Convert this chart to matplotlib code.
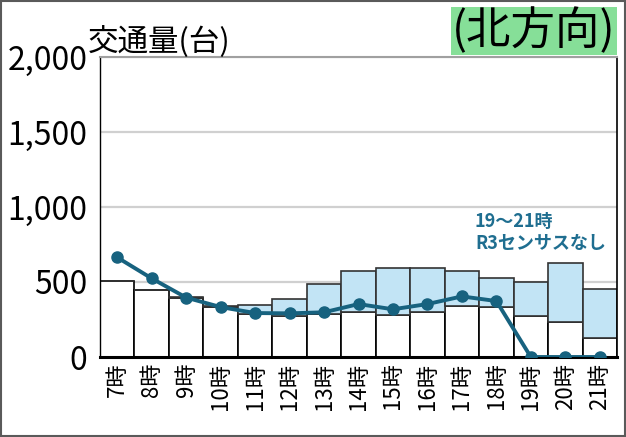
import matplotlib.pyplot as plt
import numpy as np
from matplotlib.patches import Rectangle

plt.rcParams['font.family'] = ['Noto Sans CJK JP', 'DejaVu Sans']

# data
hours = ['7時', '8時', '9時', '10時', '11時', '12時', '13時', '14時',
         '15時', '16時', '17時', '18時', '19時', '20時', '21時']
lower = [509, 444, 395, 331, 290, 276, 287, 300, 280, 298, 342, 333, 273, 231, 124]
total = [509, 444, 402, 342, 347, 389, 489, 573, 593, 591, 576, 524, 502, 624, 456]
census = [664, 524, 396, 333, 293, 291, 298, 353, 318, 353, 404, 373, 0, 0, 0]
yticks = [0, 500, 1000, 1500, 2000]

upper = np.array(total) - np.array(lower)
x = np.arange(len(hours))

fig = plt.figure(figsize=(6.26, 4.37), dpi=100)
ax = fig.add_axes([100/626, 1-357/437, 517/626, 300/437])

#bars
ax.bar(x, lower, width=1.0, color='white', edgecolor='black', linewidth=1.2, zorder=2)
ax.bar(x, upper, bottom=lower, width=1.0, color='#c2e4f5', edgecolor='#333333',
       linewidth=1.2, zorder=2)

#line
ax.plot(x, census, color='#17627f', linewidth=2.8, marker='o', markersize=8, zorder=3)

#axes
ax.set_xlim(-0.5, len(hours)-0.5)
ax.set_ylim(0, 2000)
ax.set_yticks(yticks)
ax.set_yticklabels(['{:,}'.format(v) for v in yticks], fontsize=23)
ax.set_xticks(x)
ax.set_xticklabels(hours, rotation=90, fontsize=16)
ax.tick_params(axis='both', length=0)
ax.tick_params(axis='y', pad=9)
ax.tick_params(axis='x', pad=4)
ax.yaxis.grid(True, color='#d0d0d0', linewidth=1.6, zorder=0)
ax.set_axisbelow(True)
ax.spines['top'].set_color('#a0a0a0')
ax.spines['top'].set_linewidth(1.5)
ax.spines['bottom'].set_linewidth(2.2)
ax.spines['left'].set_linewidth(1.0)
ax.spines['right'].set_linewidth(1.2)

#texts
fig.text(88/626, 1-41/437, '交通量(台)', fontsize=22, va='center', ha='left')
fig.text(534/626, 1-31/437, '(北方向)', fontsize=32, va='center', ha='center',
         bbox=dict(facecolor='#86df98', edgecolor='none', pad=0.5))
ax.text(10.38, 830, '19～21時\nR3センサスなし', fontsize=13, fontweight='bold',
        color='#1f6e90', ha='left', va='center', linespacing=1.2)

#frame round the figure
fig.patches.append(Rectangle((0.002, 0.003), 0.996, 0.994, transform=fig.transFigure,
                             fill=False, edgecolor='#5a5a5a', linewidth=1.5))

plt.savefig('out.png', dpi=100)
